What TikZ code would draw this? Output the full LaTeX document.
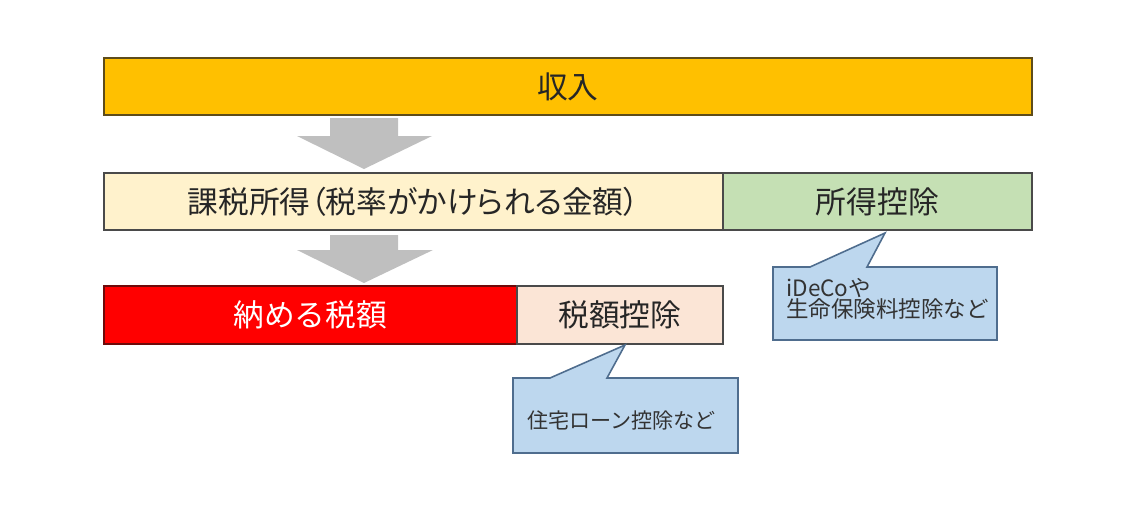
\documentclass[tikz,border=0pt]{standalone}
\usepackage{fontspec}
\setmainfont{Noto Sans CJK JP}
\newfontfamily\paltfont[RawFeature=+palt]{Noto Sans CJK JP}

\definecolor{incomefill}{HTML}{FFC000}
\definecolor{incomeline}{HTML}{5E4C1A}
\definecolor{taxablefill}{HTML}{FFF2CC}
\definecolor{deductfill}{HTML}{C5E0B4}
\definecolor{payfill}{HTML}{FF0000}
\definecolor{payline}{HTML}{6E0A0A}
\definecolor{creditfill}{HTML}{FBE5D6}
\definecolor{boxline}{HTML}{4A4A4A}
\definecolor{arrowgray}{HTML}{BFBFBF}
\definecolor{notefill}{HTML}{BDD7EE}
\definecolor{noteline}{HTML}{4F6D8E}

\begin{document}
\begin{tikzpicture}[x=0.02cm, y=-0.02cm,
    box/.style={draw=boxline, line width=1pt, inner sep=0pt, anchor=north west,
        text=black!85, font=\fontsize{17.5}{19}\selectfont},
    note/.style={fill=notefill, draw=noteline, line width=0.9pt, line join=miter},
    notetext/.style={anchor=west, inner sep=0pt, align=left, text=black!80,
        font=\fontsize{12}{12.5}\selectfont}]
    \useasboundingbox (0,0) rectangle (1134,515);

    % 収入
    \node[box, fill=incomefill, draw=incomeline, minimum width=18.56cm, minimum height=1.14cm] (income) at (103,57) {収入};

    % 課税所得と所得控除
    \node[box, fill=taxablefill, minimum width=12.38cm, minimum height=1.14cm] (taxable) at (103,172) {\paltfont 課税所得（税率がかけられる金額）};
    \node[box, fill=deductfill, minimum width=6.18cm, minimum height=1.14cm] (incded) at (722,172) {所得控除};

    % 納める税額と税額控除
    \node[box, fill=payfill, draw=payline, text=white, minimum width=8.26cm, minimum height=1.16cm] (pay) at (103,285) {納める税額};
    \node[box, fill=creditfill, minimum width=4.12cm, minimum height=1.16cm] (taxded) at (516,285) {税額控除};

    % 下向きの矢印
    \fill[arrowgray] (330,118) -- (398,118) -- (398,136) -- (432,136) -- (364,169) -- (297,136) -- (330,136) -- cycle;
    \fill[arrowgray] (330,235) -- (398,235) -- (398,250) -- (433,250) -- (364,283) -- (297,250) -- (330,250) -- cycle;

    % 吹き出し
    \draw[note] (773,267) -- (810,267) -- (885,233) -- (867,267) -- (997,267) -- (997,340) -- (773,340) -- cycle;
    \node[notetext, font=\fontsize{12.8}{12}\selectfont] (idecotext) at (786,299) {iDeCoや\\生命保険料控除など};

    \draw[note] (513,378) -- (550,378) -- (625,345) -- (607,378) -- (738,378) -- (738,453) -- (513,453) -- cycle;
    \node[notetext] (loantext) at (527,420) {住宅ローン控除など};
\end{tikzpicture}
\end{document}
